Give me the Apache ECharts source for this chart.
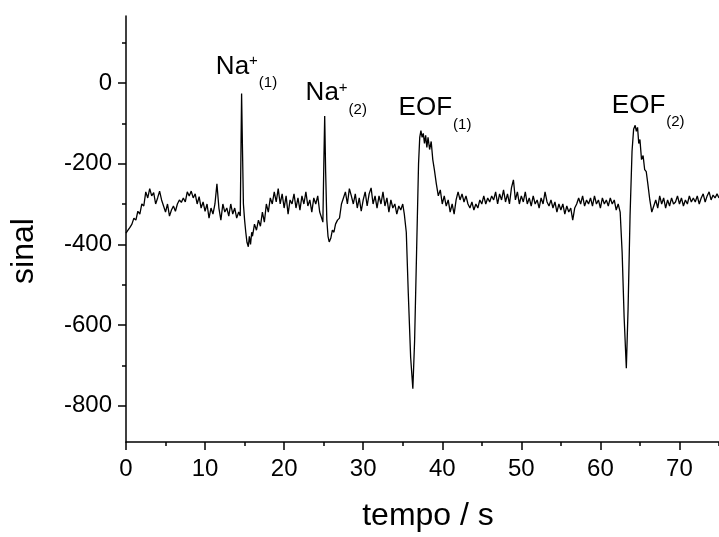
<!DOCTYPE html>
<html>
<head>
<meta charset="utf-8">
<script src="https://cdn.jsdelivr.net/npm/echarts@6/dist/echarts.min.js"></script>
<style>html,body{margin:0;padding:0;background:#fff;}#c{width:719px;height:537px;}</style>
</head>
<body>
<div id="c"></div>
<script>
// time (s), signal pairs
var signal = [
[0,-372],[0.25,-365],[0.5,-358],[0.75,-350],[1,-335],[1.25,-340],[1.5,-318],[1.75,-325],[2,-300],[2.25,-305],[2.5,-270],[2.75,-285],
[3,-262],[3.25,-280],[3.5,-272],[3.75,-300],[4,-285],[4.25,-268],[4.5,-290],[4.75,-305],[5,-320],[5.25,-300],[5.5,-330],[5.75,-315],
[6,-305],[6.25,-318],[6.5,-300],[6.75,-290],[7,-296],[7.25,-285],[7.5,-295],[7.75,-270],[8,-280],[8.25,-268],[8.5,-285],[8.75,-275],
[9,-300],[9.25,-282],[9.5,-310],[9.75,-295],[10,-318],[10.25,-300],[10.5,-335],[10.75,-310],[11,-325],[11.25,-300],[11.5,-250],[11.75,-310],
[12,-340],[12.25,-300],[12.5,-320],[12.75,-310],[13,-330],[13.25,-300],[13.5,-325],[13.75,-310],[14,-335],[14.25,-320],[14.45,-330],
[14.55,-150],[14.62,-26],[14.72,-150],[14.85,-300],[15,-340],[15.15,-370],[15.3,-395],[15.47,-406],[15.6,-380],[15.75,-400],[15.9,-370],
[16,-380],[16.25,-350],[16.5,-365],[16.75,-340],[17,-355],[17.25,-320],[17.5,-345],[17.75,-300],[18,-320],[18.25,-285],[18.5,-300],[18.75,-270],
[19,-295],[19.25,-262],[19.5,-300],[19.75,-275],[20,-310],[20.25,-280],[20.5,-325],[20.75,-290],[21,-300],[21.25,-275],[21.5,-310],[21.75,-285],
[22,-315],[22.25,-280],[22.5,-300],[22.75,-270],[23,-305],[23.25,-290],[23.5,-320],[23.75,-285],[24,-300],[24.25,-280],[24.5,-320],[24.75,-335],
[24.9,-345],[25.02,-200],[25.13,-82],[25.25,-220],[25.4,-340],[25.55,-380],[25.7,-394],[25.9,-385],[26.1,-365],[26.3,-370],[26.5,-350],[26.75,-340],
[27,-335],[27.25,-300],[27.5,-285],[27.75,-270],[28,-300],[28.25,-262],[28.5,-280],[28.75,-300],[29,-275],[29.25,-310],[29.5,-285],[29.75,-318],
[30,-290],[30.25,-270],[30.5,-305],[30.75,-275],[31,-260],[31.25,-300],[31.5,-280],[31.75,-310],[32,-280],[32.25,-300],[32.5,-270],[32.75,-305],
[33,-285],[33.25,-320],[33.5,-290],[33.75,-310],[34,-300],[34.25,-325],[34.5,-305],[34.75,-315],[35,-300],[35.2,-325],[35.45,-370],
[35.7,-520],[36,-680],[36.28,-758],[36.5,-640],[36.75,-420],[37,-200],[37.15,-135],[37.3,-118],[37.45,-135],[37.6,-125],[37.75,-150],
[37.9,-130],[38.05,-160],[38.2,-135],[38.4,-165],[38.6,-145],[38.8,-190],[39,-215],[39.25,-250],[39.5,-280],[39.75,-265],[40,-300],
[40.25,-280],[40.5,-305],[40.75,-290],[41,-320],[41.25,-300],[41.5,-325],[41.75,-290],[42,-270],[42.25,-290],[42.5,-275],[42.75,-295],
[43,-280],[43.25,-300],[43.5,-310],[43.75,-295],[44,-315],[44.25,-300],[44.5,-310],[44.75,-290],[45,-300],[45.25,-280],[45.5,-300],[45.75,-285],
[46,-295],[46.25,-280],[46.5,-290],[46.75,-270],[47,-300],[47.25,-275],[47.5,-290],[47.75,-265],[48,-295],[48.25,-275],[48.5,-300],[48.75,-260],
[49,-240],[49.25,-290],[49.5,-270],[49.75,-300],[50,-280],[50.25,-295],[50.5,-270],[50.75,-300],[51,-285],[51.25,-305],[51.5,-280],[51.75,-300],
[52,-290],[52.25,-310],[52.5,-285],[52.75,-300],[53,-270],[53.25,-295],[53.5,-305],[53.75,-290],[54,-310],[54.25,-295],[54.5,-320],[54.75,-300],
[55,-315],[55.25,-300],[55.5,-325],[55.75,-305],[56,-320],[56.25,-310],[56.5,-340],[56.75,-310],[57,-300],[57.25,-285],[57.5,-300],[57.75,-280],
[58,-305],[58.25,-290],[58.5,-300],[58.75,-285],[59,-305],[59.25,-280],[59.5,-300],[59.75,-290],[60,-310],[60.25,-285],[60.5,-300],[60.75,-290],
[61,-305],[61.25,-285],[61.5,-300],[61.75,-290],[62,-315],[62.25,-300],[62.5,-320],[62.75,-420],[63,-580],[63.28,-707],[63.5,-560],
[63.75,-330],[64,-170],[64.2,-115],[64.4,-105],[64.55,-120],[64.7,-110],[64.85,-150],[65,-140],[65.2,-190],[65.4,-180],[65.6,-215],
[65.8,-220],[66,-250],[66.25,-290],[66.5,-320],[66.75,-305],[67,-290],[67.25,-310],[67.5,-280],[67.75,-300],[68,-285],[68.25,-310],[68.5,-290],
[68.75,-305],[69,-285],[69.25,-300],[69.5,-295],[69.75,-280],[70,-300],[70.25,-285],[70.5,-305],[70.75,-290],[71,-300],[71.25,-280],[71.5,-295],
[71.75,-285],[72,-295],[72.25,-280],[72.5,-300],[72.75,-285],[73,-275],[73.25,-295],[73.5,-280],[73.75,-270],[74,-290],[74.25,-278],[74.5,-285],
[74.75,-275],[75,-285]
];

var xMajorTicks = [0, 10, 20, 30, 40, 50, 60, 70];
var xMinorTicks = [5, 15, 25, 35, 45, 55, 65, 75];
var yMajorTicks = [-800, -600, -400, -200, 0];
var yMinorTicks = [-700, -500, -300, -100, 100];

// peak annotations: label parts and anchor (top-left) in data units
var annoMain = ['Na', 'Na', 'EOF', 'EOF'];
var annoSup = ['+', '+', '', ''];
var annoSub = ['(1)', '(2)', '(1)', '(2)'];
var annoX = [11.43, 22.78, 34.54, 61.51];
var annoY = [72, 6, -31, -25];

var FONT = '"Liberation Sans", Arial, sans-serif';

var markData = annoMain.map(function (m, i) {
  var txt = '{m|' + m + '}' + (annoSup[i] ? '{p|' + annoSup[i] + '}' : '') + '{b|' + annoSub[i] + '}';
  return {
    coord: [annoX[i], annoY[i]],
    label: { formatter: txt }
  };
});

var chart = echarts.init(document.getElementById('c'), null, { renderer: 'canvas' });
chart.setOption({
  animation: false,
  backgroundColor: '#ffffff',
  grid: { left: 124, right: 0, top: 16, bottom: 92, containLabel: false },
  xAxis: [{
    type: 'value', min: 0, max: 75, position: 'bottom',
    name: 'tempo / s', nameLocation: 'middle', nameGap: 58,
    nameTextStyle: { fontFamily: FONT, fontSize: 32, color: '#000', padding: [0, 0, 0, 11] },
    axisLine: { show: true, onZero: false, lineStyle: { color: '#000', width: 1.5 } },
    axisTick: { show: true, inside: false, length: 8, customValues: xMajorTicks, lineStyle: { color: '#000', width: 1.5 } },
    axisLabel: { show: true, margin: 15, customValues: xMajorTicks, fontFamily: FONT, fontSize: 24, color: '#000' },
    splitLine: { show: false }
  }, {
    type: 'value', min: 0, max: 75, position: 'bottom', offset: 0,
    axisLine: { show: false, onZero: false },
    axisTick: { show: true, inside: false, length: 4, customValues: xMinorTicks, lineStyle: { color: '#000', width: 1.5 } },
    axisLabel: { show: false },
    splitLine: { show: false }
  }],
  yAxis: [{
    type: 'value', min: -890, max: 166, position: 'left',
    name: 'sinal', nameLocation: 'middle', nameGap: 86, nameRotate: 90,
    nameTextStyle: { fontFamily: FONT, fontSize: 32, color: '#000', padding: [0, 44, 0, 0] },
    axisLine: { show: true, onZero: false, lineStyle: { color: '#000', width: 1.5 } },
    axisTick: { show: true, inside: false, length: 8, customValues: yMajorTicks, lineStyle: { color: '#000', width: 1.5 } },
    axisLabel: { show: true, margin: 14, customValues: yMajorTicks, fontFamily: FONT, fontSize: 24, color: '#000' },
    splitLine: { show: false }
  }, {
    type: 'value', min: -890, max: 166, position: 'left', offset: 0,
    axisLine: { show: false, onZero: false },
    axisTick: { show: true, inside: false, length: 4, customValues: yMinorTicks, lineStyle: { color: '#000', width: 1.5 } },
    axisLabel: { show: false },
    splitLine: { show: false }
  }],
  series: [{
    type: 'line',
    xAxisIndex: 0, yAxisIndex: 0,
    data: signal,
    showSymbol: false,
    symbol: 'none',
    lineStyle: { color: '#000', width: 1.3 },
    markPoint: {
      symbol: 'rect', symbolSize: 1,
      itemStyle: { color: 'rgba(0,0,0,0)' },
      label: {
        show: true, position: [0, 0], align: 'left', verticalAlign: 'top',
        rich: {
          m: { fontFamily: FONT, fontSize: 26, lineHeight: 30, color: '#000', verticalAlign: 'top' },
          p: { fontFamily: FONT, fontSize: 15, lineHeight: 24, color: '#000', verticalAlign: 'top' },
          b: { fontFamily: FONT, fontSize: 15, lineHeight: 16, padding: [22, 0, 0, 1], color: '#000', verticalAlign: 'top' }
        }
      },
      data: markData
    }
  }]
});
</script>
</body>
</html>
